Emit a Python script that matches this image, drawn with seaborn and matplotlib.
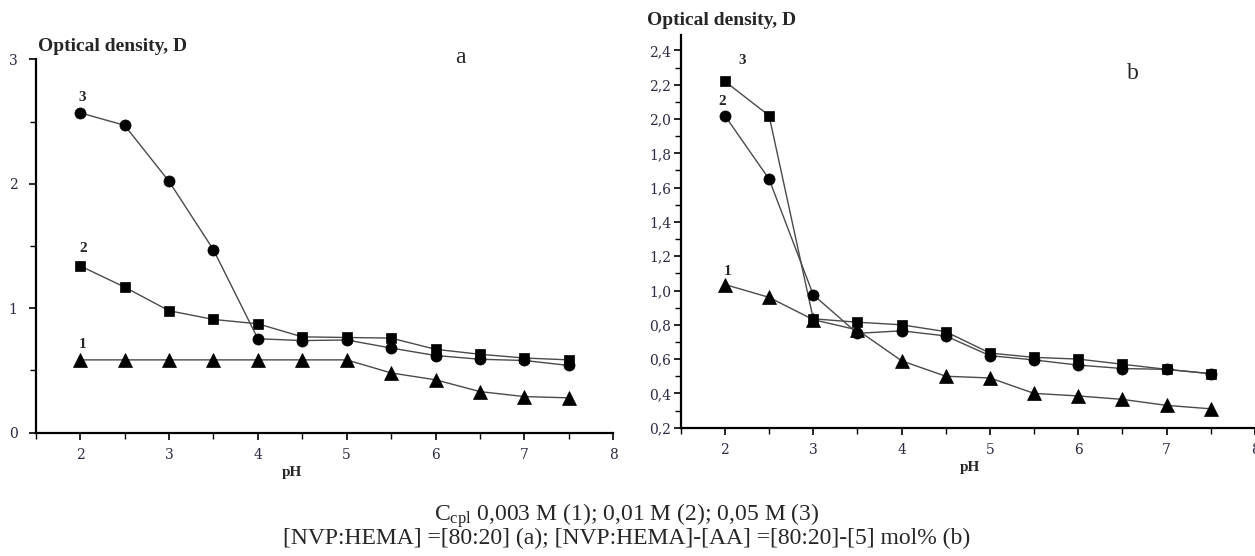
import numpy as np
import pandas as pd
import matplotlib
matplotlib.use("Agg")
import matplotlib.pyplot as plt
from matplotlib.ticker import MultipleLocator, FixedLocator, FixedFormatter
import seaborn as sns

# ---------------- data ----------------
ph = [2.0, 2.5, 3.0, 3.5, 4.0, 4.5, 5.0, 5.5, 6.0, 6.5, 7.0, 7.5]

# panel a : [NVP:HEMA] = [80:20]
a_curve1_tri = [0.585, 0.585, 0.585, 0.585, 0.585, 0.585, 0.585, 0.48, 0.425, 0.33, 0.29, 0.28]
a_curve2_sq = [1.34, 1.17, 0.98, 0.91, 0.875, 0.77, 0.765, 0.76, 0.67, 0.63, 0.60, 0.585]
a_curve3_circ = [2.57, 2.47, 2.02, 1.47, 0.755, 0.74, 0.745, 0.68, 0.62, 0.59, 0.58, 0.54]

# panel b : [NVP:HEMA]-[AA] = [80:20]-[5]
b_curve1_tri = [1.035, 0.96, 0.83, 0.77, 0.59, 0.50, 0.49, 0.40, 0.385, 0.365, 0.33, 0.31]
b_curve2_circ = [2.02, 1.65, 0.975, 0.75, 0.765, 0.735, 0.62, 0.595, 0.565, 0.545, 0.54, 0.515]
b_curve3_sq = [2.22, 2.02, 0.835, 0.815, 0.80, 0.76, 0.635, 0.61, 0.60, 0.57, 0.54, 0.515]

a_yticks = [0, 1, 2, 3]
a_yticklabels = ["0", "1", "2", "3"]
b_yticks = [0.2, 0.4, 0.6, 0.8, 1.0, 1.2, 1.4, 1.6, 1.8, 2.0, 2.2, 2.4]
b_yticklabels = ["0,2", "0,4", "0,6", "0,8", "1,0", "1,2", "1,4", "1,6", "1,8", "2,0", "2,2", "2,4"]
xticks = [2, 3, 4, 5, 6, 7, 8]
xticklabels = ["2", "3", "4", "5", "6", "7", "8"]

ylabel_text = "Optical density, D"
xlabel_text = "pH"
caption1 = r"C$_{\mathrm{cpl}}$ 0,003 M (1); 0,01 M (2); 0,05 M (3)"
caption2 = "[NVP:HEMA] =[80:20] (a); [NVP:HEMA]-[AA] =[80:20]-[5] mol% (b)"

# ---------------- style ----------------
sns.set_style("ticks")
plt.rcParams["font.family"] = ["Liberation Serif", "DejaVu Serif"]
plt.rcParams["mathtext.fontset"] = "custom"
plt.rcParams["mathtext.rm"] = "Liberation Serif"
plt.rcParams["mathtext.it"] = "Liberation Serif:italic"

fig = plt.figure(figsize=(12.55, 5.56), dpi=100)
fig.patch.set_facecolor("white")

ax_a = fig.add_axes([0.02845, 0.2218, 0.4602, 0.6715])
ax_b = fig.add_axes([0.5424, 0.2308, 0.4576, 0.7062])

LINE_C = "#4a4a4a"
MK = {"tri": ("^", 9.5), "sq": ("s", 7.5), "circ": ("o", 8)}


def draw(ax, y, kind):
    m, ms = MK[kind]
    df = pd.DataFrame({"pH": ph, "D": y})
    sns.lineplot(data=df, x="pH", y="D", ax=ax, color=LINE_C, linewidth=1.0,
                 marker=m, markersize=ms, markerfacecolor="black",
                 markeredgecolor="black", markeredgewidth=0.5, legend=False)


draw(ax_a, a_curve1_tri, "tri")
draw(ax_a, a_curve2_sq, "sq")
draw(ax_a, a_curve3_circ, "circ")

draw(ax_b, b_curve1_tri, "tri")
draw(ax_b, b_curve3_sq, "sq")
draw(ax_b, b_curve2_circ, "circ")

tick_color = "#2b2b45"
for ax in (ax_a, ax_b):
    ax.set_xlim(1.5, 8)
    ax.set_xlabel("")
    ax.set_ylabel("")
    ax.set_facecolor("white")
    for s in ("top", "right"):
        ax.spines[s].set_visible(False)
    for s in ("left", "bottom"):
        ax.spines[s].set_linewidth(1.6)
        ax.spines[s].set_color("black")
    ax.xaxis.set_major_locator(FixedLocator(xticks))
    ax.xaxis.set_major_formatter(FixedFormatter(xticklabels))
    ax.xaxis.set_minor_locator(MultipleLocator(0.5))
    ax.tick_params(axis="both", which="major", direction="out", length=5, width=1.2,
                   labelsize=10, labelcolor=tick_color, color="black", pad=6)
    ax.tick_params(axis="both", which="minor", direction="out", length=4, width=1.0,
                   color="black")
    for lab in ax.get_xticklabels() + ax.get_yticklabels():
        lab.set_family(["DejaVu Serif"])

ax_a.set_ylim(0, 3)
ax_a.yaxis.set_major_locator(FixedLocator(a_yticks))
ax_a.yaxis.set_major_formatter(FixedFormatter(a_yticklabels))
ax_a.yaxis.set_minor_locator(MultipleLocator(0.5))
ax_a.tick_params(axis="y", which="major", pad=8)

ax_b.set_ylim(0.2, 2.49)
ax_b.yaxis.set_major_locator(FixedLocator(b_yticks))
ax_b.yaxis.set_major_formatter(FixedFormatter(b_yticklabels))
ax_b.yaxis.set_minor_locator(MultipleLocator(0.1))
ax_b.tick_params(axis="y", which="major", pad=2)

for ax in (ax_a, ax_b):
    for lab in ax.get_xticklabels() + ax.get_yticklabels():
        lab.set_family(["DejaVu Serif"])

# curve numbers
lab_kw = dict(fontsize=11, fontweight="bold", ha="center", va="center")
ax_a.text(2.02, 2.69, "3", **lab_kw)
ax_a.text(2.04, 1.48, "2", **lab_kw)
ax_a.text(2.03, 0.71, "1", **lab_kw)
ax_b.text(2.2, 2.34, "3", **lab_kw)
ax_b.text(1.97, 2.10, "2", **lab_kw)
ax_b.text(2.03, 1.11, "1", **lab_kw)

# panel letters
fig.text(0.3665, 0.8957, "a", fontsize=17, ha="center", va="center")
fig.text(0.9028, 0.8687, "b", fontsize=17, ha="center", va="center")

# axis titles
fig.text(0.0303, 0.9155, ylabel_text, fontsize=14, fontweight="bold", ha="left", va="center")
fig.text(0.5155, 0.964, ylabel_text, fontsize=14, fontweight="bold", ha="left", va="center")
fig.text(0.2327, 0.151, xlabel_text, fontsize=11, fontweight="bold", ha="center", va="center")
fig.text(0.773, 0.160, xlabel_text, fontsize=11, fontweight="bold", ha="center", va="center")

# caption
fig.text(0.4996, 0.072, caption1, fontsize=17, ha="center", va="center")
fig.text(0.4996, 0.031, caption2, fontsize=17, ha="center", va="center")

fig.savefig("out.png", dpi=100, facecolor="white")
